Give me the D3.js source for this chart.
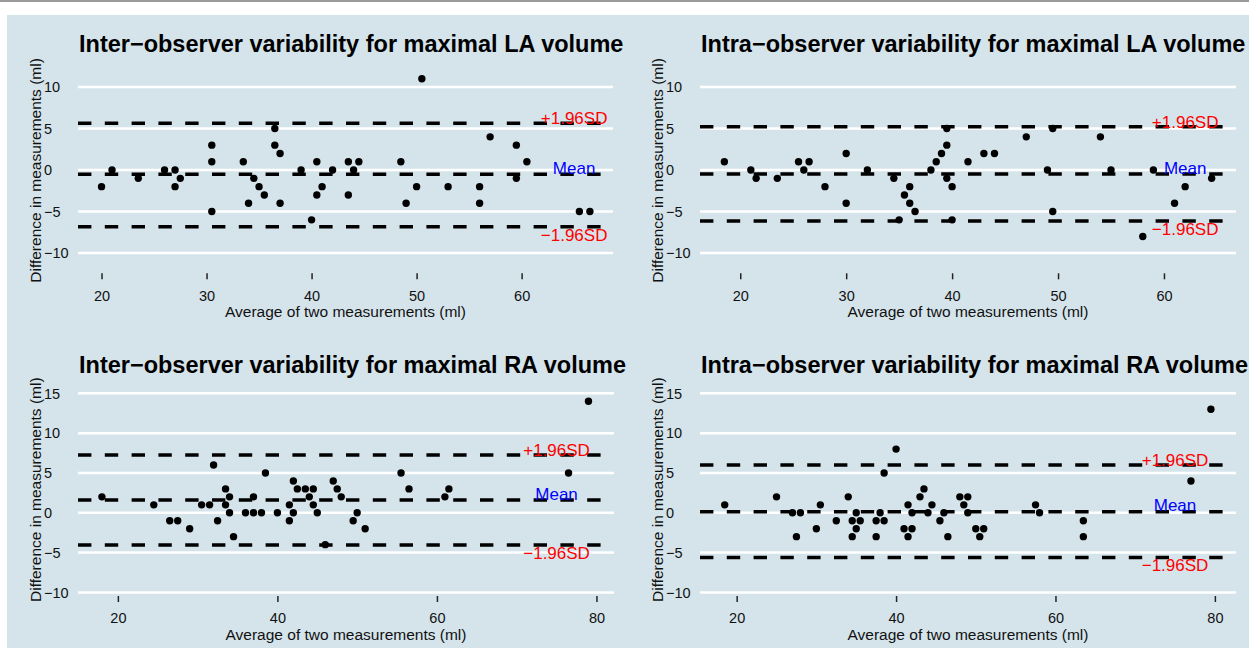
<!DOCTYPE html>
<html>
<head>
<meta charset="utf-8">
<script src="https://cdn.jsdelivr.net/npm/d3@7"></script>
<style>
  body { margin: 0; background: #fff; }
  svg { display: block; font-family: "Liberation Sans", Arial, Helvetica, sans-serif; }
</style>
</head>
<body>
<div id="container"></div>
<script>
// panel titles
var titles = [
    'Inter\u2212observer variability for maximal LA volume',
    'Intra\u2212observer variability for maximal LA volume',
    'Inter\u2212observer variability for maximal RA volume',
    'Intra\u2212observer variability for maximal RA volume'
];

var interLA_avg = [20, 21, 23.5, 26, 27, 27, 27.5, 30.5, 30.5, 30.5, 33.5, 34, 34.5, 35, 35.5, 36.5, 36.5, 37, 37, 39, 40, 40.5, 40.5, 41, 42, 43.5, 43.5, 44, 44.5, 48.5, 49, 50, 50.5, 53, 56, 56, 57, 59.5, 59.5, 60.5, 65.5, 66.5];
var interLA_diff = [-2, 0, -1, 0, 0, -2, -1, 3, 1, -5, 1, -4, -1, -2, -3, 5, 3, 2, -4, 0, -6, 1, -3, -2, 0, 1, -3, 0, 1, 1, -4, -2, 11, -2, -2, -4, 4, 3, -1, 1, -5, -5];

var intraLA_avg = [18.5, 21, 21.5, 23.5, 25.5, 26, 26.5, 28, 30, 30, 32, 34.5, 35, 35.5, 36, 36, 36.5, 38, 38.5, 39, 39.5, 39.5, 39.5, 40, 40, 41.5, 43, 44, 47, 49, 49.5, 49.5, 54, 55, 58, 59, 61, 62, 64.5];
var intraLA_diff = [1, 0, -1, -1, 1, 0, 1, -2, 2, -4, 0, -1, -6, -3, -2, -4, -5, 0, 1, 2, 3, 5, -1, -2, -6, 1, 2, 2, 4, 0, 5, -5, 4, 0, -8, 0, -4, -2, -1];

var interRA_avg = [18, 24.5, 26.5, 27.5, 29, 30.5, 31.5, 32, 32.5, 33.5, 33.5, 34, 34, 34.5, 36, 37, 37, 38, 38.5, 40, 41.5, 41.5, 42, 42, 42.5, 43.5, 44, 44.5, 44.5, 45, 46, 47, 47.5, 48, 49.5, 50, 51, 55.5, 56.5, 61, 61.5, 76.5, 79];
var interRA_diff = [2, 1, -1, -1, -2, 1, 1, 6, -1, 3, 1, 2, 0, -3, 0, 2, 0, 0, 5, 0, -1, 1, 4, 0, 3, 3, 2, 3, 1, 0, -4, 4, 3, 2, -1, 0, -2, 5, 3, 2, 3, 5, 14];

var intraRA_avg = [18.5, 25, 27, 27.5, 28, 30, 30.5, 32.5, 34, 34.5, 34.5, 35, 35, 35.5, 37.5, 37.5, 38, 38.5, 38.5, 40, 41, 41.5, 41.5, 42, 42, 43, 43.5, 44, 44.5, 45.5, 46, 46.5, 48, 48.5, 49, 49, 50, 50.5, 51, 57.5, 58, 63.5, 63.5, 77, 79.5];
var intraRA_diff = [1, 2, 0, -3, 0, -2, 1, -1, 2, -1, -3, 0, -2, -1, -1, -3, 0, 5, -1, 8, -2, 1, -3, 0, -2, 2, 3, 0, 1, -1, 0, -3, 2, 1, 2, 0, -2, -3, -2, 1, 0, -1, -3, 4, 13];

// mean difference and limits of agreement (upper, mean, lower)
var limitsInterLA = [5.63, -0.52, -6.83];
var limitsIntraLA = [5.22, -0.48, -6.14];
var limitsInterRA = [7.25, 1.6, -4.06];
var limitsIntraRA = [6.0, 0.13, -5.6];

// x position of the limit labels
var labelX = [65, 62, 75, 75];

// axis ticks
var xTicksLA = [20, 30, 40, 50, 60];
var xTicksRA = [20, 40, 60, 80];
var yTicksLA = [-10, -5, 0, 5, 10];
var yTicksRA = [-10, -5, 0, 5, 10, 15];

var width = 1249, height = 655;

var svg = d3.select('#container')
    .append('svg')
    .attr('width', width)
    .attr('height', height);

svg.append('rect')
    .attr('x', 0).attr('y', 0)
    .attr('width', width).attr('height', 2)
    .style('fill', '#9a9a9a');

svg.append('rect')
    .attr('x', 7).attr('y', 15)
    .attr('width', width - 7).attr('height', 633)
    .style('fill', '#d5e4eb');

var panels = [
    {title: titles[0], avg: interLA_avg, diff: interLA_diff, lim: limitsInterLA, lx: labelX[0],
     xd: [17.76, 68.7], yd: [-12.2, 12.1], left: 78, right: 613, top: 69.6, bottom: 271.3,
     xt: xTicksLA, yt: yTicksLA, titleY: 52},
    {title: titles[1], avg: intraLA_avg, diff: intraLA_diff, lim: limitsIntraLA, lx: labelX[1],
     xd: [16.2, 66.8], yd: [-12.2, 12.1], left: 700, right: 1236, top: 69.6, bottom: 271.3,
     xt: xTicksLA, yt: yTicksLA, titleY: 52},
    {title: titles[2], avg: interRA_avg, diff: interRA_diff, lim: limitsInterRA, lx: labelX[2],
     xd: [15.0, 82.2], yd: [-10.2, 16], left: 78, right: 614, top: 385.4, bottom: 594,
     xt: xTicksRA, yt: yTicksRA, titleY: 373},
    {title: titles[3], avg: intraRA_avg, diff: intraRA_diff, lim: limitsIntraRA, lx: labelX[3],
     xd: [15.4, 82.65], yd: [-10.2, 16], left: 700, right: 1236, top: 385.4, bottom: 594,
     xt: xTicksRA, yt: yTicksRA, titleY: 373}
];

panels.forEach(function(p) {
    var x = d3.scaleLinear().domain(p.xd).range([p.left, p.right]);
    var y = d3.scaleLinear().domain(p.yd).range([p.bottom, p.top]);
    var g = svg.append('g');

    // title
    g.append('text')
        .text(p.title)
        .attr('x', p.left + 1)
        .attr('y', p.titleY)
        .style('font-size', '23.5px')
        .style('font-weight', 'bold')
        .style('fill', '#000');

    // horizontal grid
    g.selectAll('line.grid')
        .data(p.yt)
        .enter()
        .append('line')
        .attr('class', 'grid')
        .attr('x1', p.left).attr('x2', p.right)
        .attr('y1', function(d) { return y(d); })
        .attr('y2', function(d) { return y(d); })
        .style('stroke', '#fff')
        .style('stroke-width', 2.5);

    // y axis labels (left aligned)
    var yAxis = g.append('g')
        .attr('transform', 'translate(' + p.left + ',0)')
        .call(d3.axisLeft(y).tickValues(p.yt).tickSize(0));
    yAxis.select('.domain').remove();
    yAxis.selectAll('text')
        .attr('x', -34)
        .attr('text-anchor', 'start')
        .style('font-size', '14.5px')
        .style('font-family', 'inherit')
        .style('fill', '#111');

    // x axis
    var xAxis = g.append('g')
        .attr('transform', 'translate(0,' + (p.bottom + 2) + ')')
        .call(d3.axisBottom(x).tickValues(p.xt).tickSize(6).tickPadding(11));
    xAxis.select('.domain').remove();
    xAxis.selectAll('line').style('stroke', '#222').style('stroke-width', 1.5);
    xAxis.selectAll('text')
        .style('font-size', '14.5px')
        .style('font-family', 'inherit')
        .style('fill', '#111');

    // axis titles
    g.append('text')
        .text('Average of two measurements (ml)')
        .attr('x', (p.left + p.right) / 2)
        .attr('y', p.bottom + 46)
        .attr('text-anchor', 'middle')
        .style('font-size', '15.5px')
        .style('fill', '#111');

    g.append('text')
        .text('Difference in measurements (ml)')
        .attr('transform', 'translate(' + (p.left - 37) + ',' + ((p.top + p.bottom) / 2) + ') rotate(-90)')
        .attr('text-anchor', 'middle')
        .style('font-size', '15.5px')
        .style('fill', '#111');

    // dashed mean and limit lines
    g.selectAll('line.lim')
        .data(p.lim)
        .enter()
        .append('line')
        .attr('class', 'lim')
        .attr('x1', p.left).attr('x2', p.right)
        .attr('y1', function(d) { return y(d); })
        .attr('y2', function(d) { return y(d); })
        .style('stroke', '#000')
        .style('stroke-width', 3.5)
        .style('stroke-dasharray', '13.4 13.4');

    // points
    g.selectAll('circle')
        .data(p.avg)
        .enter()
        .append('circle')
        .attr('cx', function(d) { return x(d); })
        .attr('cy', function(d, i) { return y(p.diff[i]); })
        .attr('r', 3.7)
        .style('fill', '#000');

    // labels
    var labels = [
        {t: '+1.96SD', v: p.lim[0], dy: 1, c: 'red'},
        {t: 'Mean', v: p.lim[1], dy: -0.5, c: 'blue'},
        {t: '\u22121.96SD', v: p.lim[2], dy: 14, c: 'red'}
    ];
    g.selectAll('text.lab')
        .data(labels)
        .enter()
        .append('text')
        .attr('class', 'lab')
        .text(function(d) { return d.t; })
        .attr('x', x(p.lx))
        .attr('y', function(d) { return y(d.v) + d.dy; })
        .attr('text-anchor', 'middle')
        .style('font-size', '17px')
        .style('fill', function(d) { return d.c; });
});
</script>
</body>
</html>
